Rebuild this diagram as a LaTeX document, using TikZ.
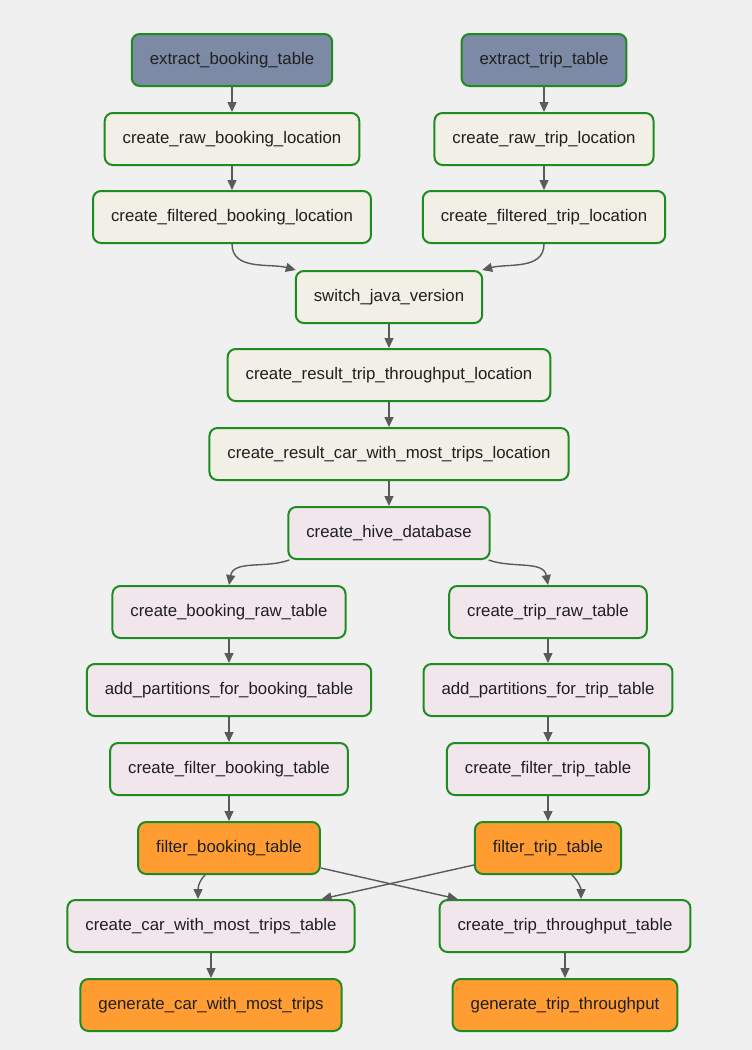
\documentclass[tikz,border=0pt]{standalone}
\usepackage{fontspec}
\setmainfont{Liberation Sans}
\usetikzlibrary{arrows.meta}
\definecolor{bggray}{RGB}{240,240,240}
\definecolor{taskgreen}{RGB}{30,140,30}
\definecolor{slatetask}{RGB}{124,138,166}
\definecolor{creamtask}{RGB}{242,239,230}
\definecolor{pinktask}{RGB}{242,230,237}
\definecolor{orangetask}{RGB}{255,157,51}
\definecolor{edgegray}{RGB}{90,90,90}
\tikzset{
    task/.style={draw=taskgreen, line width=2pt, rounded corners=8pt,
        minimum height=52pt, inner xsep=18pt, text=black!88,
        font=\fontsize{16.8}{20}\selectfont},
    extracttask/.style={task, fill=slatetask},
    loctask/.style={task, fill=creamtask},
    hivetask/.style={task, fill=pinktask},
    sparktask/.style={task, fill=orangetask},
    flow/.style={draw=edgegray, line width=1.4pt,
        -{Triangle[length=10pt,width=9pt]}}
}
\begin{document}
\begin{tikzpicture}[x=1pt,y=-1pt]
            \fill[bggray] (0,0) rectangle (752,1050);
            \node[extracttask] (extractbooking) at (232,60) {extract\_booking\_table};
            \node[extracttask] (extracttrip) at (544,60) {extract\_trip\_table};
            \node[loctask] (rawbooking) at (232,139) {create\_raw\_booking\_location};
            \node[loctask] (rawtrip) at (544,139) {create\_raw\_trip\_location};
            \node[loctask] (filteredbooking) at (232,217) {create\_filtered\_booking\_location};
            \node[loctask] (filteredtrip) at (544,217) {create\_filtered\_trip\_location};
            \node[loctask] (switchjava) at (389,297) {switch\_java\_version};
            \node[loctask] (resulttrip) at (389,375) {create\_result\_trip\_throughput\_location};
            \node[loctask] (resultcar) at (389,454) {create\_result\_car\_with\_most\_trips\_location};
            \node[hivetask] (hivedb) at (389,533) {create\_hive\_database};
            \node[hivetask] (bookingraw) at (229,612) {create\_booking\_raw\_table};
            \node[hivetask] (tripraw) at (548,612) {create\_trip\_raw\_table};
            \node[hivetask] (partbooking) at (229,690) {add\_partitions\_for\_booking\_table};
            \node[hivetask] (parttrip) at (548,690) {add\_partitions\_for\_trip\_table};
            \node[hivetask] (filterbookingtbl) at (229,769) {create\_filter\_booking\_table};
            \node[hivetask] (filtertriptbl) at (548,769) {create\_filter\_trip\_table};
            \node[sparktask] (filterbooking) at (229,848) {filter\_booking\_table};
            \node[sparktask] (filtertrip) at (548,848) {filter\_trip\_table};
            \node[hivetask] (cartable) at (211,926) {create\_car\_with\_most\_trips\_table};
            \node[hivetask] (throughputtable) at (565,926) {create\_trip\_throughput\_table};
            \node[sparktask] (gencar) at (211,1005) {generate\_car\_with\_most\_trips};
            \node[sparktask] (genthroughput) at (565,1005) {generate\_trip\_throughput};
            \draw[flow] (extractbooking) -- (rawbooking);
            \draw[flow] (rawbooking) -- (filteredbooking);
            \draw[flow] (extracttrip) -- (rawtrip);
            \draw[flow] (rawtrip) -- (filteredtrip);
            \draw[flow] (filteredbooking.south) to[out=-90, in=165] ([xshift=1pt]switchjava.north west);
            \draw[flow] (filteredtrip.south) to[out=-90, in=15] ([xshift=-1pt]switchjava.north east);
            \draw[flow] (switchjava) -- (resulttrip);
            \draw[flow] (resulttrip) -- (resultcar);
            \draw[flow] (resultcar) -- (hivedb);
            \draw[flow] ([xshift=2pt]hivedb.south west) to[out=200, in=80] (bookingraw.north);
            \draw[flow] ([xshift=-2pt]hivedb.south east) to[out=-20, in=100] (tripraw.north);
            \draw[flow] (bookingraw) -- (partbooking);
            \draw[flow] (partbooking) -- (filterbookingtbl);
            \draw[flow] (filterbookingtbl) -- (filterbooking);
            \draw[flow] (tripraw) -- (parttrip);
            \draw[flow] (parttrip) -- (filtertriptbl);
            \draw[flow] (filtertriptbl) -- (filtertrip);
            \draw[flow] ([xshift=-24pt]filterbooking.south) to[out=-135, in=90] ([xshift=-13pt]cartable.north);
            \draw[flow] ([xshift=24pt]filtertrip.south) to[out=-45, in=90] ([xshift=16pt]throughputtable.north);
            \draw[flow] ([yshift=7pt]filterbooking.south east) -- ([xshift=19pt]throughputtable.north west);
            \draw[flow] ([yshift=10pt]filtertrip.south west) -- ([xshift=-34pt]cartable.north east);
            \draw[flow] (cartable) -- (gencar);
            \draw[flow] (throughputtable) -- (genthroughput);
        \end{tikzpicture}
\end{document}
